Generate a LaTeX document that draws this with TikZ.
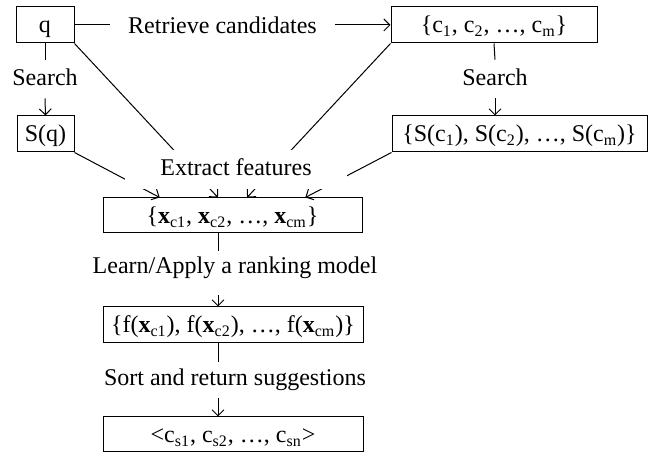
\documentclass[tikz,border=0pt]{standalone}
\usepackage{fontspec}
\setmainfont{Liberation Serif}
\usetikzlibrary{arrows.meta,calc,backgrounds}
\begin{document}
\begin{tikzpicture}[x=0.5pt,y=-0.5pt,
  every node/.style={font=\fontsize{12}{14}\selectfont, inner sep=0pt},
  box/.style={draw, line width=0.5pt, minimum height=18pt, text height=8pt, text depth=0pt},
  lbl/.style={fill=white},
  conn/.style={line width=0.5pt},
  arr/.style={conn,-{Straight Barb[length=3pt,width=6pt]}}]
\useasboundingbox (0,0) rectangle (659,458);
% boxes
\node[box, minimum width=29pt] (q) at (45,25) {q};
\node[box, minimum width=103pt] (cset) at (494,25) {\{c\textsubscript{1}, c\textsubscript{2}, …, c\textsubscript{m}\}};
\node[box, minimum width=28.5pt] (Sq) at (45.5,134) {S(q)};
\node[box, minimum width=127.5pt] (Sc) at (519.5,134) {\{S(c\textsubscript{1}), S(c\textsubscript{2}), …, S(c\textsubscript{m})\}};
\node[box, minimum width=129.5pt, minimum height=17.5pt] (xb) at (232.5,215.5) {\{\textbf{x}\textsubscript{c1}, \textbf{x}\textsubscript{c2}, …, \textbf{x}\textsubscript{cm}\}};
\node[box, minimum width=130pt] (fb) at (233,325) {\{f(\textbf{x}\textsubscript{c1}), f(\textbf{x}\textsubscript{c2}), …, f(\textbf{x}\textsubscript{cm})\}};
\node[box, minimum width=130pt, minimum height=17.5pt] (sb) at (233,434.5) {<c\textsubscript{s1}, c\textsubscript{s2}, …, c\textsubscript{sn}>};
% labels
\node[minimum width=112.5pt, text height=8.5pt, text depth=0pt] (rc) at (222.5,25) {Retrieve candidates};
\node[text height=13pt, text depth=6pt] (s1) at (45,79) {Search};
\node[text height=13pt, text depth=6pt] (s2) at (495,79) {Search};
\node[lbl, minimum width=111pt, text height=13pt, text depth=6.5pt] (ef) at (236,169.5) {Extract features};
\node[text height=11.5pt, text depth=10.5pt] (lr) at (235,273) {Learn/Apply a ranking model};
\node[text height=12pt, text depth=6pt] (so) at (235,380) {Sort and return suggestions};
\coordinate (v) at (218,0);
% connectors
\draw[conn] (q) -- (rc);
\draw[arr] (rc) -- (cset);
\draw[conn] (q.south) -- (s1.north);
\draw[arr] (s1.south) -- (Sq.north);
\draw[conn] (cset.south) -- (s2.north);
\draw[arr] (s2.south) -- (Sc.north -| s2.south);
\begin{scope}[on background layer]
\draw[arr] (Sq.south east) -- ($(xb.north west)!0.22!(xb.north east)$);
\draw[arr] (q.south east) -- ($(xb.north west)!0.444!(xb.north east)$);
\draw[arr] (cset.south west) -- ($(xb.north west)!0.556!(xb.north east)$);
\draw[arr] (Sc.south west) -- ($(xb.north west)!0.78!(xb.north east)$);
\end{scope}
\draw[conn] (xb.south -| v) -- (lr.north -| v);
\draw[arr] (lr.south -| v) -- (fb.north -| v);
\draw[conn] (fb.south -| v) -- (so.north -| v);
\draw[arr] (so.south -| v) -- (sb.north -| v);
\end{tikzpicture}
\end{document}
